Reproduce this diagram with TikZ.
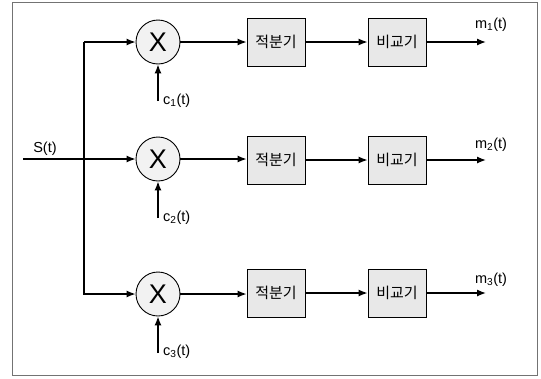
\documentclass[tikz,border=0pt]{standalone}
\usepackage{fontspec}
\setmainfont{Liberation Sans}
\newfontfamily\kor{Noto Sans CJK KR}
\usetikzlibrary{arrows.meta}
\begin{document}
\begin{tikzpicture}[x=1pt,y=-1pt,
  arr/.style={line width=1.3pt,-{Latex[length=9pt,width=7pt]}},
  mult/.style={circle,draw,line width=0.9pt,fill=black!5,minimum size=44pt,inner sep=0pt,font=\fontsize{27}{27}\selectfont},
  blk/.style={draw,line width=0.9pt,fill=black!9,minimum width=58pt,minimum height=48pt,inner sep=0pt,font=\kor\fontsize{15}{15}\selectfont},
  lbl/.style={inner sep=0pt,font=\fontsize{14.5}{14.5}\selectfont}]
\useasboundingbox (0,0) rectangle (541,378);
\draw[black!55,line width=1pt] (12,2) rectangle (537,375);
% row 1
\node[mult] (x1) at (158,42) {X};
\node[blk] (i1) at (276,42) {적분기};
\node[blk] (k1) at (397,42) {비교기};
\coordinate (o1) at (486,42);
% row 2
\node[mult] (x2) at (158,159) {X};
\node[blk] (i2) at (276,160) {적분기};
\node[blk] (k2) at (397,160) {비교기};
\coordinate (o2) at (486,160);
% row 3
\node[mult] (x3) at (158,294) {X};
\node[blk] (i3) at (276,293) {적분기};
\node[blk] (k3) at (397,293) {비교기};
\coordinate (o3) at (486,293);
% input
\coordinate (sin) at (23,159);
\coordinate (b1) at (84,42);
\node[lbl] (s) at (45,149) {S(t)};
\draw[arr] (sin) -- (x2.west);
\draw[arr] (b1) -- (x1.west);
\draw[arr] (b1) |- (x3.west);
% chain
\foreach \r in {1,2,3}{
  \draw[arr] (x\r.east) -- (x\r.east -| i\r.west);
  \draw[arr] (i\r.east) -- (i\r.east -| k\r.west);
  \draw[arr] (k\r.east) -- (o\r);
}
% carriers
\coordinate (c1) at (158,101);
\coordinate (c2) at (158,218);
\coordinate (c3) at (158,353);
\draw[arr] (c1) -- (x1.south);
\draw[arr] (c2) -- (x2.south);
\draw[arr] (c3) -- (x3.south);
\node[lbl,anchor=west] (lc1) at (163,101) {c\textsubscript{1}(t)};
\node[lbl,anchor=west] (lc2) at (163,218) {c\textsubscript{2}(t)};
\node[lbl,anchor=west] (lc3) at (163,352) {c\textsubscript{3}(t)};
\node[lbl] (lm1) at (491,25) {m\textsubscript{1}(t)};
\node[lbl] (lm2) at (491,145) {m\textsubscript{2}(t)};
\node[lbl] (lm3) at (491,280) {m\textsubscript{3}(t)};
\end{tikzpicture}
\end{document}
